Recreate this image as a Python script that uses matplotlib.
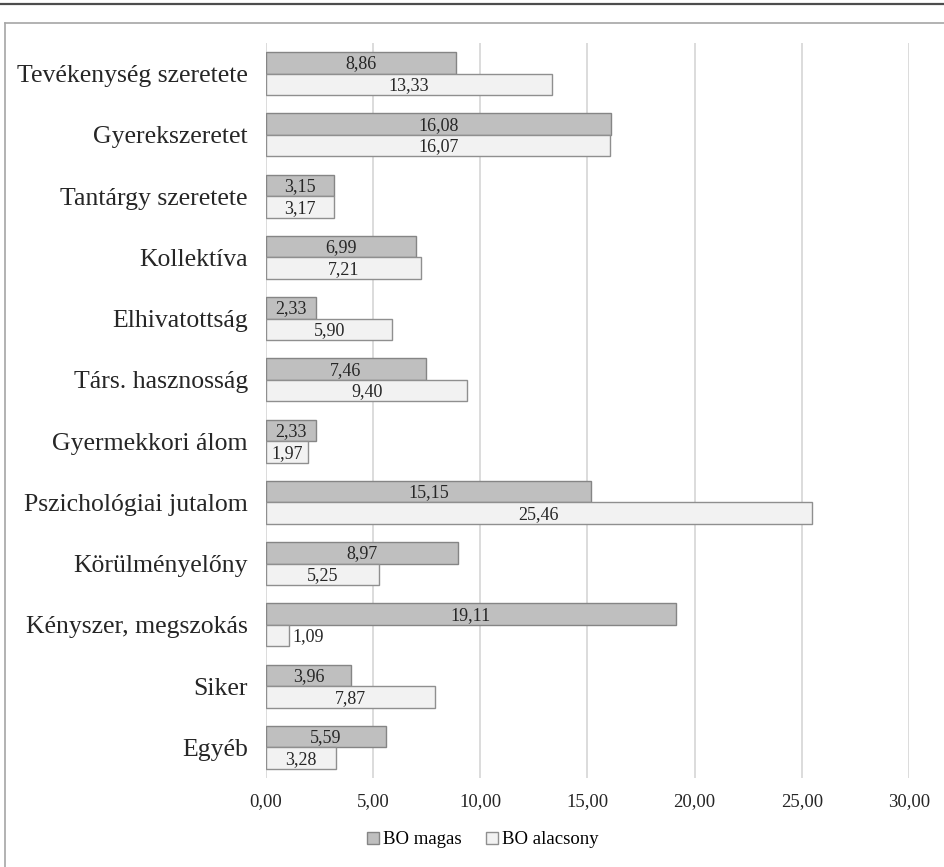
import matplotlib
matplotlib.use("Agg")
import matplotlib.pyplot as plt
from matplotlib.patches import Patch
from matplotlib.lines import Line2D

plt.rcParams["font.family"] = ["Liberation Serif", "DejaVu Serif"]

categories = [
    "Tevékenység szeretete",
    "Gyerekszeretet",
    "Tantárgy szeretete",
    "Kollektíva",
    "Elhivatottság",
    "Társ. hasznosság",
    "Gyermekkori álom",
    "Pszichológiai jutalom",
    "Körülményelőny",
    "Kényszer, megszokás",
    "Siker",
    "Egyéb",
]
bo_magas = [8.86, 16.08, 3.15, 6.99, 2.33, 7.46, 2.33, 15.15, 8.97, 19.11, 3.96, 5.59]
bo_alacsony = [13.33, 16.07, 3.17, 7.21, 5.90, 9.40, 1.97, 25.46, 5.25, 1.09, 7.87, 3.28]
series_names = ["BO magas", "BO alacsony"]
x_ticks = [0, 5, 10, 15, 20, 25, 30]


def fmt(v):
    return f"{v:.2f}".replace(".", ",")


fig = plt.figure(figsize=(9.45, 8.67), dpi=100)

# outer frame: dark rule on top, thin grey box edge below it
fig.add_artist(Line2D([0, 1], [1 - 3.5 / 867] * 2, color="#4d4d4d", lw=1.6,
                      transform=fig.transFigure))
fig.add_artist(Line2D([4.5 / 945, 1], [1 - 23 / 867] * 2, color="#a6a6a6", lw=1.2,
                      transform=fig.transFigure))
fig.add_artist(Line2D([4.5 / 945] * 2, [0, 1 - 23 / 867], color="#a6a6a6", lw=1.2,
                      transform=fig.transFigure))

ax = fig.add_axes([266 / 945, 1 - 778 / 867, (909 - 266) / 945, (778 - 43) / 867])

h = 0.353
ypos = list(range(len(categories)))
styles = [("#bfbfbf", "#858585"), ("#f2f2f2", "#8f8f8f")]
for k, vals in enumerate([bo_magas, bo_alacsony]):
    off = -h / 2 if k == 0 else h / 2
    face, edge = styles[k]
    ys = [y + off for y in ypos]
    ax.barh(ys, vals, height=h, color=face, edgecolor=edge, linewidth=1.0,
            label=series_names[k], zorder=3)
    for y, v in zip(ys, vals):
        if v < 1.5:
            # too narrow for the label, put it just past the bar end
            ax.text(v + 0.15, y + 0.02, fmt(v), ha="left", va="center",
                    fontsize=13, color="#262626", zorder=4)
        else:
            ax.text(v / 2, y + 0.02, fmt(v), ha="center", va="center",
                    fontsize=13, color="#262626", zorder=4)

ax.set_xlim(0, 30)
ax.set_ylim(len(categories) - 0.5, -0.5)
ax.set_yticks(ypos)
ax.set_yticklabels(categories, fontsize=18.5, color="#262626")
ax.set_xticks(x_ticks)
ax.set_xticklabels([fmt(t) for t in x_ticks], fontsize=13.5, color="#262626")
ax.tick_params(axis="both", length=0)
ax.tick_params(axis="y", pad=13)
ax.tick_params(axis="x", pad=11)
ax.grid(axis="x", color="#d9d9d9", lw=1.3, zorder=0)
for s in ax.spines.values():
    s.set_visible(False)

handles = [Patch(facecolor=styles[i][0], edgecolor=styles[i][1], label=series_names[i])
           for i in range(2)]
fig.legend(handles=handles, loc="center", bbox_to_anchor=(483 / 945, 1 - 840 / 867),
           ncol=2, frameon=False, fontsize=13.5, handlelength=0.65, handleheight=0.65,
           handletextpad=0.2, columnspacing=1.3)

fig.savefig("out.png", dpi=100)
